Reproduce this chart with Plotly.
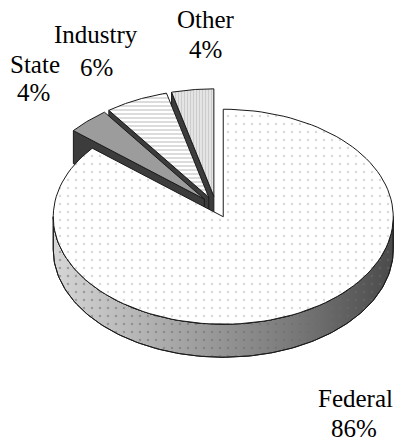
import numpy as np
import plotly.graph_objects as go

# Funding sources and their share of the total (percent)
sources = ["Federal", "State", "Industry", "Other"]
shares = [86, 4, 6, 4]
pull = [0.1, 0.1, 0.1, 0.1]   # explode fraction of each slice

# Canvas and tilted-pie geometry (pixel units)
W, H = 396, 443
CX, CY = 216.0, 207.0      # pie centre
RX, RY = 170.0, 107.5      # ellipse radii of the tilted disc
DEPTH = 33.0               # visible thickness of the disc

# Surface styling per slice
top_style = {
    "Federal": dict(bg="#ffffff", shape=".", fg="#b4b4b4", size=8, solidity=0.08),
    "State": dict(bg="#9c9c9c", shape="", fg="#9c9c9c", size=8, solidity=0.2),
    "Industry": dict(bg="#ffffff", shape="-", fg="#9a9a9a", size=4, solidity=0.35),
    "Other": dict(bg="#e4e4e4", shape="|", fg="#b4b4b4", size=3, solidity=0.35),
}
face_color = "#3c3c3c"
edge_color = "#1a1a1a"

# Label anchor points (centre of each text line)
label_pos = {
    "Federal": [(355, 398), (354, 428)],
    "State": [(35, 64), (33, 92)],
    "Industry": [(96, 34), (96, 67)],
    "Other": [(206, 19), (205, 49)],
}
label_font = dict(family="Liberation Serif", size=25, color="#000000")


def ell(cx, cy, theta_deg):
    t = np.radians(theta_deg)
    return cx + RX * np.sin(t), cy - RY * np.cos(t)


def arc(cx, cy, a0, a1, n=120):
    th = np.linspace(a0, a1, n)
    return ell(cx, cy, th)


values = np.array(shares, dtype=float)
ends = np.cumsum(values) / values.sum() * 360.0
starts = np.concatenate([[0.0], ends[:-1]])

slices = []
for name, a0, a1, p in zip(sources, starts, ends, pull):
    mid = np.radians((a0 + a1) / 2)
    ox = CX + p * RX * np.sin(mid)
    oy = CY - p * RY * np.cos(mid)
    slices.append(dict(name=name, a0=a0, a1=a1, cx=ox, cy=oy))

fig = go.Figure()


def add_poly(xs, ys, **kw):
    fig.add_trace(go.Scatter(
        x=list(xs), y=list(ys), mode="lines", fill="toself",
        hoverinfo="skip", showlegend=False, **kw))


def draw_top(s):
    st = top_style[s["name"]]
    ax, ay = arc(s["cx"], s["cy"], s["a0"], s["a1"])
    xs = np.concatenate([[s["cx"]], ax, [s["cx"]]])
    ys = np.concatenate([[s["cy"]], ay, [s["cy"]]])
    pat = dict(shape=st["shape"], fgcolor=st["fg"], bgcolor=st["bg"],
               size=st["size"], solidity=st["solidity"])
    add_poly(xs, ys, fillcolor=st["bg"], fillpattern=pat,
             line=dict(color=edge_color, width=1))


def draw_start_face(s):
    px, py = ell(s["cx"], s["cy"], s["a0"])
    xs = [s["cx"], px, px, s["cx"], s["cx"]]
    ys = [s["cy"], py, py + DEPTH, s["cy"] + DEPTH, s["cy"]]
    add_poly(xs, ys, fillcolor=face_color, line=dict(color=edge_color, width=1))


def draw_front_wall(s):
    lo = max(s["a0"], 90.0)
    hi = min(s["a1"], 270.0)
    if hi <= lo:
        return
    tx, ty = arc(s["cx"], s["cy"], lo, hi)
    xs = np.concatenate([tx, tx[::-1], tx[:1]])
    ys = np.concatenate([ty, ty[::-1] + DEPTH, ty[:1]])
    add_poly(xs, ys, fillcolor="#8c8c8c",
             fillgradient=dict(type="horizontal",
                               colorscale=[[0, "#d6d6d6"], [0.35, "#a8a8a8"],
                                           [0.7, "#7a7a7a"], [1, "#4a4a4a"]]),
             line=dict(color=edge_color, width=1))
    add_poly(xs, ys, fillcolor="rgba(0,0,0,0)",
             fillpattern=dict(shape=".", fgcolor="#6a6a6a",
                              bgcolor="rgba(0,0,0,0)", size=8, solidity=0.08),
             line=dict(color=edge_color, width=1))


# Back slices first so nearer ones overlap them
order = sorted(range(len(slices)),
               key=lambda i: -np.cos(np.radians((slices[i]["a0"] + slices[i]["a1"]) / 2)))
for i in order:
    s = slices[i]
    draw_front_wall(s)
    if s["a0"] > 180:
        draw_start_face(s)
    draw_top(s)

annotations = []
for name, share in zip(sources, shares):
    (x1, y1), (x2, y2) = label_pos[name]
    for (x, y), txt in (((x1, y1), name), ((x2, y2), f"{share}%")):
        annotations.append(dict(
            x=x, y=y, xref="x", yref="y", text=txt, showarrow=False,
            xanchor="center", yanchor="middle", font=label_font))

fig.update_layout(
    width=W, height=H,
    margin=dict(l=0, r=0, t=0, b=0),
    paper_bgcolor="white", plot_bgcolor="white",
    xaxis=dict(range=[0, W], visible=False, fixedrange=True),
    yaxis=dict(range=[H, 0], visible=False, fixedrange=True),
    annotations=annotations,
    showlegend=False,
)

fig.write_html("out.html")
